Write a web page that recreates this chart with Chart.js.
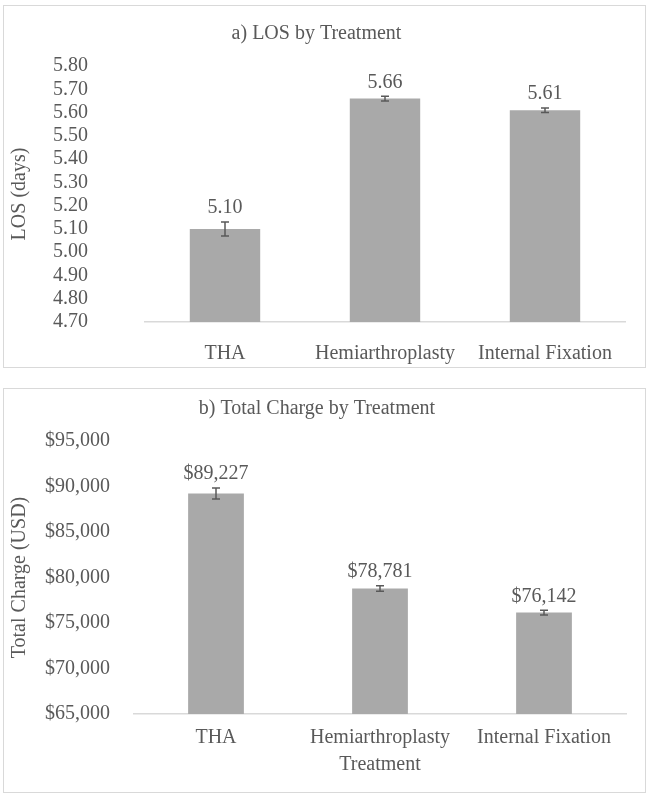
<!DOCTYPE html>
<html>
<head>
<meta charset="utf-8">
<script src="https://cdn.jsdelivr.net/npm/chart.js@4.4.1/dist/chart.umd.min.js"></script>
<style>
  body { margin: 0; background: #fff; }
  .panel { position: absolute; left: 3px; width: 643px; border: 1.5px solid #d9d9d9; box-sizing: border-box; }
  #p1 { top: 5px; height: 363px; }
  #p2 { top: 388px; height: 405px; }
  canvas { position: absolute; left: 0; top: 0; }
</style>
</head>
<body>
<div class="panel" id="p1"><canvas id="losChart" width="640" height="360"></canvas></div>
<div class="panel" id="p2"><canvas id="chargeChart" width="640" height="402"></canvas></div>
<script>
// categories shared by both charts
const treatments = ["THA", "Hemiarthroplasty", "Internal Fixation"];

// a) length of stay
const losMeans = [5.10, 5.66, 5.61];
const losErrors = [0.03, 0.01, 0.01];
const losTicks = [4.70, 4.80, 4.90, 5.00, 5.10, 5.20, 5.30, 5.40, 5.50, 5.60, 5.70, 5.80];

// b) total charge
const chargeMeans = [89227, 78781, 76142];
const chargeErrors = [600, 300, 250];
const chargeTicks = [65000, 70000, 75000, 80000, 85000, 90000, 95000];

const grey = "#595959";
const fontFam = "'Liberation Serif', 'Times New Roman', serif";

const money = v => "$" + Math.round(v).toLocaleString("en-US");

// error bars + value labels drawn on top of the bars
const errorBarPlugin = {
  id: "errorBars",
  afterDatasetsDraw(chart) {
    const c = chart.ctx;
    const yScale = chart.scales.y;
    const meta = chart.getDatasetMeta(0);
    const ds = chart.data.datasets[0];
    meta.data.forEach((bar, i) => {
      const v = ds.data[i];
      const e = ds.errors[i];
      const yTop = yScale.getPixelForValue(v + e);
      const yBot = yScale.getPixelForValue(v - e);
      const x = bar.x;
      c.save();
      c.strokeStyle = grey;
      c.lineWidth = 1.5;
      c.beginPath();
      c.moveTo(x, yTop); c.lineTo(x, yBot);
      c.moveTo(x - 4, yTop); c.lineTo(x + 4, yTop);
      c.moveTo(x - 4, yBot); c.lineTo(x + 4, yBot);
      c.stroke();
      c.fillStyle = grey;
      c.font = "20px " + fontFam;
      c.textAlign = "center";
      c.textBaseline = "bottom";
      c.fillText(ds.labelFmt(v), x, yTop - 4);
      c.restore();
    });
  }
};

const makeChart = (id, cfg) => new Chart(document.getElementById(id), {
  type: "bar",
  data: {
    labels: treatments,
    datasets: [{
      data: cfg.values,
      errors: cfg.errors,
      labelFmt: cfg.fmt,
      backgroundColor: "#a9a9a9",
      barPercentage: cfg.barPct,
      categoryPercentage: 1,
    }],
  },
  options: {
    responsive: false,
    animation: false,
    layout: { padding: { left: 4, right: cfg.padRight, top: 0, bottom: cfg.padBottom } },
    plugins: {
      legend: { display: false },
      tooltip: { enabled: false },
      title: {
        display: true,
        text: cfg.title,
        color: grey,
        font: { family: fontFam, size: 20, weight: "normal" },
        padding: { top: cfg.titleTop, bottom: cfg.titleBottom },
      },
    },
    scales: {
      x: {
        grid: { display: false },
        border: { color: "#d9d9d9", width: 1.5 },
        afterFit: axis => { axis.height = cfg.xHeight; },
        ticks: { color: grey, font: { family: fontFam, size: 20 }, padding: cfg.xTickPad, maxRotation: 0 },
        title: {
          display: !!cfg.xTitle,
          text: cfg.xTitle || "",
          color: grey,
          font: { family: fontFam, size: 20 },
          padding: 0,
        },
      },
      y: {
        min: cfg.ticks[0],
        max: cfg.ticks[cfg.ticks.length - 1],
        grid: { display: false },
        border: { display: false },
        afterBuildTicks: axis => { axis.ticks = cfg.ticks.map(v => ({ value: v })); },
        afterFit: axis => {
          axis.width = cfg.yWidth;
          // big tick padding should not push the plot area down
          axis.paddingTop = 0;
          axis.paddingBottom = 0;
        },
        ticks: {
          autoSkip: false,
          color: grey,
          font: { family: fontFam, size: 20 },
          padding: cfg.tickPad,
          callback: cfg.tickFmt,
        },
        title: {
          display: true,
          text: cfg.yTitle,
          color: grey,
          font: { family: fontFam, size: 20 },
          padding: 0,
        },
      },
    },
  },
  plugins: [errorBarPlugin],
});

makeChart("losChart", {
  title: "a) LOS by Treatment",
  values: losMeans,
  errors: losErrors,
  ticks: losTicks,
  fmt: v => v.toFixed(2),
  tickFmt: v => Number(v).toFixed(2),
  yTitle: "LOS (days)",
  barPct: 0.44,
  yWidth: 137,
  tickPad: 49,
  padRight: 19,
  padBottom: 0,
  xHeight: 44,
  xTickPad: 12,
  titleTop: 16,
  titleBottom: 20,
});

makeChart("chargeChart", {
  title: "b) Total Charge by Treatment",
  values: chargeMeans,
  errors: chargeErrors,
  ticks: chargeTicks,
  fmt: money,
  tickFmt: money,
  yTitle: "Total Charge (USD)",
  xTitle: "Treatment",
  barPct: 0.34,
  yWidth: 126,
  tickPad: 16,
  padRight: 18,
  padBottom: 14,
  xHeight: 63,
  xTickPad: 4,
  titleTop: 8,
  titleBottom: 20,
});
</script>
</body>
</html>
